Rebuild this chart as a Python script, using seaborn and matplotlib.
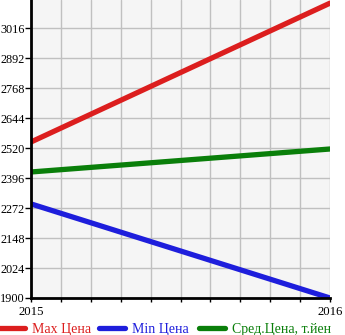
import matplotlib
matplotlib.use("Agg")
import matplotlib.pyplot as plt
import seaborn as sns
import pandas as pd
import numpy as np
from matplotlib.lines import Line2D

years = [2015, 2016]
max_price = [2545, 3119]
min_price = [2289, 1900]
avg_price = [2421, 2516]
series_names = ["Max Цена", "Min Цена", "Сред.Цена, т.йен"]
colors = ["#dc1e1e", "#1e1edc", "#0a7f0a"]
yticks = [1900, 2024, 2148, 2272, 2396, 2520, 2644, 2768, 2892, 3016]

df = pd.DataFrame({
    "year": years * 3,
    "price": max_price + min_price + avg_price,
    "series": [series_names[0]] * 2 + [series_names[1]] * 2 + [series_names[2]] * 2,
})

sns.set_theme(style="white")
plt.rcParams["font.family"] = ["Liberation Serif", "DejaVu Serif"]

fig = plt.figure(figsize=(3.45, 3.35), dpi=100)
ax = fig.add_axes([31 / 345, 37 / 335, 299 / 345, 298 / 335])
ax.set_facecolor("#f5f5f5")

sns.lineplot(data=df, x="year", y="price", hue="series", palette=colors,
             linewidth=3.8, ax=ax, legend=False, solid_capstyle="round")

ax.set_xlim(2015, 2016)
ax.set_ylim(1900, 3132)
ax.set_yticks(yticks)
ax.set_yticklabels([str(v) for v in yticks], fontsize=8.8)
ax.set_xticks(years)
ax.set_xticklabels([str(y) for y in years], fontsize=9.2)
ax.set_xticks(np.linspace(2015, 2016, 11), minor=True)
ax.grid(True, which="both", color="#c0c0c0", linewidth=1)
ax.set_axisbelow(True)
ax.set_xlabel("")
ax.set_ylabel("")
for s in ["top", "right"]:
    ax.spines[s].set_visible(False)
for s in ["left", "bottom"]:
    ax.spines[s].set_color("black")
    ax.spines[s].set_linewidth(2)
ax.tick_params(axis="y", which="major", direction="out", length=4, width=1,
               color="black", left=True, pad=0.5, labelcolor="black")
ax.tick_params(axis="x", which="both", direction="out", length=3, width=1,
               color="black", bottom=True, pad=2.5, labelcolor="black")

for i, (name, c) in enumerate(zip(series_names, colors)):
    h = Line2D([0], [0], color=c, linewidth=3.8, solid_capstyle="round")
    leg = fig.legend([h], [name], loc="center left",
                     bbox_to_anchor=((i * 100 - 1) / 345, 1 - 329 / 335),
                     frameon=False, fontsize=10, handlelength=1.9,
                     handletextpad=0.5, borderaxespad=0, borderpad=0)
    for t in leg.get_texts():
        t.set_color(c)

fig.savefig("out.png", dpi=100)
